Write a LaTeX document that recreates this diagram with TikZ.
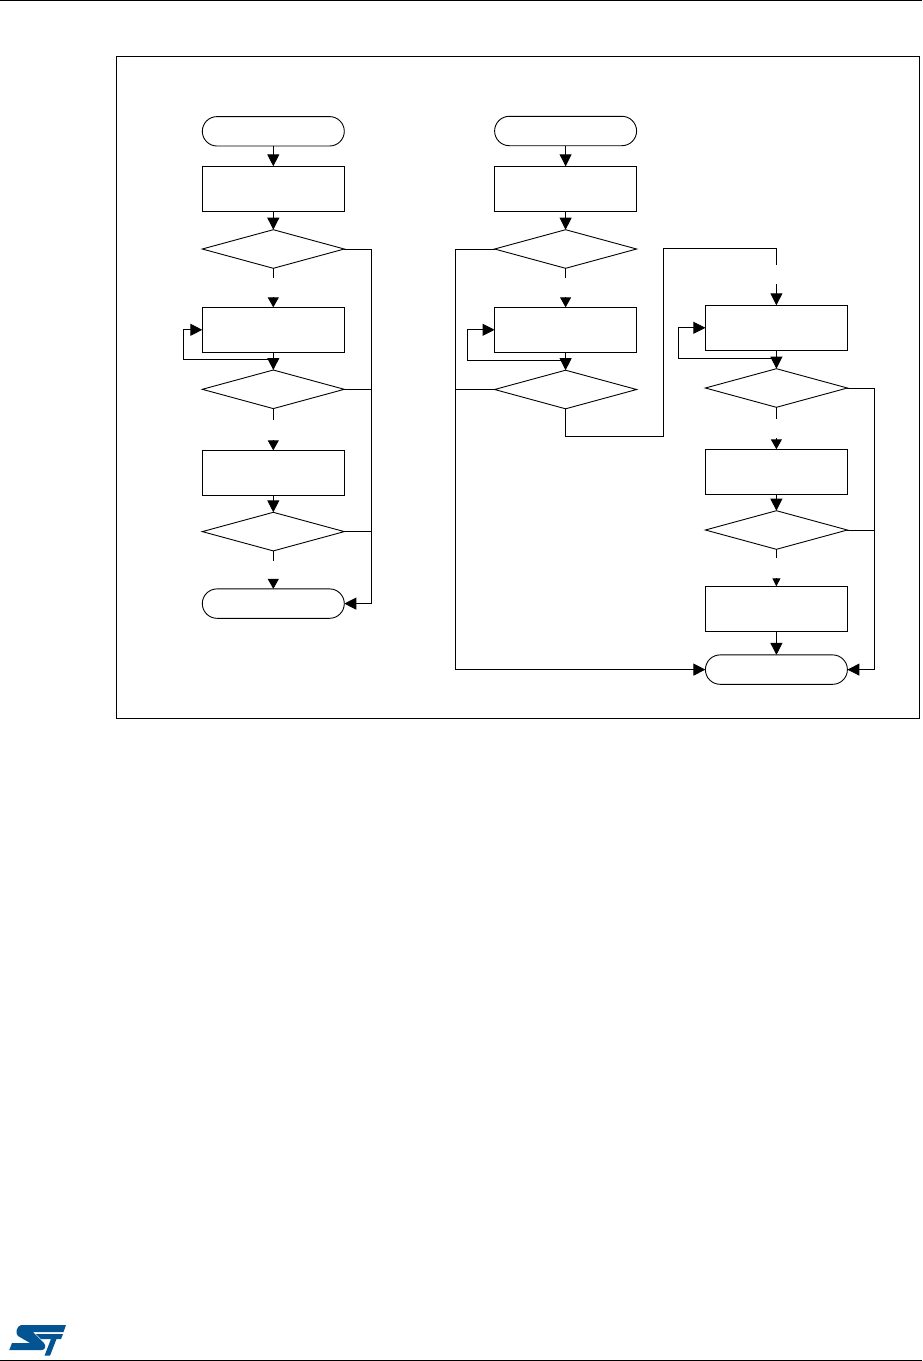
\documentclass[tikz,border=0pt]{standalone}
\usetikzlibrary{shapes.geometric,shapes.misc,arrows.meta}
\definecolor{stblue}{RGB}{3,84,146}
\tikzset{
  x=1pt,y=-1pt,
  every node/.style={draw=black,line width=0.9pt,outer sep=0pt,inner sep=0pt,fill=white},
  boxn/.style={rectangle,minimum width=142pt,minimum height=45pt},
  term/.style={rounded rectangle,minimum width=142pt,minimum height=29.4pt},
  dec/.style={diamond,minimum width=142pt,minimum height=38.6pt},
  frame/.style={draw=black,line width=1pt},
  conn/.style={draw=black,line width=0.9pt},
  arr/.style={conn,-{Triangle[length=12pt,width=12pt]}},
  arrs/.style={conn,-{Triangle[length=10pt,width=11pt]}},
}
\begin{document}
\begin{tikzpicture}
\useasboundingbox (0,0) rectangle (922,1361);
\fill[white] (0,0) rectangle (922,1361);
\coordinate (topa) at (0,0.6); \coordinate (topb) at (922,0.6);
\draw[frame] (topa) -- (topb);
\coordinate (bota) at (0,1360.4); \coordinate (botb) at (922,1360.4);
\draw[frame] (bota) -- (botb);
\draw[frame] (116.3,56.3) rectangle (919.2,718.3);

% left column
\node[term] (a0) at (273.3,131.3) {};
\node[boxn] (a1) at (273.3,188.8) {};
\node[dec]  (a2) at (273.3,249) {};
\node[boxn] (a3) at (273.3,329.8) {};
\node[dec]  (a4) at (273.3,389.3) {};
\node[boxn] (a5) at (273.3,472.8) {};
\node[dec]  (a6) at (273.3,531.6) {};
\node[term] (a7) at (273.3,603.6) {};
\coordinate (a2s) at (273.3,277.7);
\coordinate (a3s) at (273.3,297);
\coordinate (a4s) at (273.3,419.7);
\coordinate (a5s) at (273.3,440.3);
\coordinate (a6s) at (273.3,560.7);
\coordinate (a7s) at (273.3,580);
\coordinate (arail) at (371.3,249);
\coordinate (aloop) at (273.3,359.3);
\coordinate (aloopl) at (183.3,359.3);
\draw[arr] (a0.south) -- (a1.north);
\draw[arr] (a1.south) -- (a2.north);
\draw[conn] (a2.south) -- (a2s);
\draw[arrs] (a3s) -- (a3.north);
\draw[arr] (a3.south) -- (a4.north);
\draw[conn] (a4.south) -- (a4s);
\draw[arrs] (a5s) -- (a5.north);
\draw[arr] (a5.south) -- (a6.north);
\draw[conn] (a6.south) -- (a6s);
\draw[arrs] (a7s) -- (a7.north);
\draw[arr] (aloop) -- (aloopl) |- (a3.west);
\draw[arr] (a2.east) -- (arail) |- (a7.east);
\draw[conn] (a4.east) -- (a4.east -| arail);
\draw[conn] (a6.east) -- (a6.east -| arail);

% middle column
\node[term] (b0) at (565.6,131) {};
\node[boxn] (b1) at (565.6,188.8) {};
\node[dec]  (b2) at (565.6,249) {};
\node[boxn] (b3) at (565.6,329.8) {};
\node[dec]  (b4) at (565.6,389.5) {};
\coordinate (b2s) at (565.6,277.7);
\coordinate (b3s) at (565.6,297);
\coordinate (bloop) at (565.6,360.3);
\coordinate (bloopl) at (467.3,360.3);
\coordinate (brail) at (455.3,249);
\coordinate (bd1) at (565.6,436);
\coordinate (bd2) at (663.4,436);
\coordinate (bd3) at (663.4,248.3);
\coordinate (bd4) at (776.4,248.3);
\coordinate (bd5) at (776.4,264.7);
\draw[arr] (b0.south) -- (b1.north);
\draw[arr] (b1.south) -- (b2.north);
\draw[conn] (b2.south) -- (b2s);
\draw[arrs] (b3s) -- (b3.north);
\draw[arr] (b3.south) -- (b4.north);
\draw[arr] (bloop) -- (bloopl) |- (b3.west);
\draw[conn] (b4.south) -- (bd1) -- (bd2) -- (bd3) -- (bd4) -- (bd5);

% right column
\node[boxn] (c1) at (776.4,327.8) {};
\node[dec]  (c2) at (776.4,388) {};
\node[boxn] (c3) at (776.4,471.8) {};
\node[dec]  (c4) at (776.4,530) {};
\node[boxn] (c5) at (776.4,608.8) {};
\node[term] (c6) at (776.4,669.6) {};
\coordinate (c1s) at (776.4,284);
\coordinate (c2s) at (776.4,418.7);
\coordinate (c3s) at (776.4,438.3);
\coordinate (c4s) at (776.4,557.7);
\coordinate (c5s) at (776.4,578.3);
\coordinate (cloop) at (776.4,358.3);
\coordinate (cloopl) at (678.3,358.3);
\coordinate (crail) at (874.3,388);
\draw[arr] (c1s) -- (c1.north);
\draw[arr] (c1.south) -- (c2.north);
\draw[conn] (c2.south) -- (c2s);
\draw[arrs] (c3s) -- (c3.north);
\draw[arr] (c3.south) -- (c4.north);
\draw[conn] (c4.south) -- (c4s);
\draw[conn,-{Triangle[length=8pt,width=8pt]}] (c5s) -- (c5.north);
\draw[arr] (c5.south) -- (c6.north);
\draw[arr] (cloop) -- (cloopl) |- (c1.west);
\draw[arr] (c2.east) -- (crail) |- (c6.east);
\draw[conn] (c4.east) -- (c4.east -| crail);
\draw[arr] (b2.west) -- (brail) |- (c6.west);
\draw[conn] (b4.west) -- (b4.west -| brail);

% logo
\fill[stblue] (21,1325) -- (66,1325) -- (63.5,1332) -- (33,1332)
  -- (44,1343) .. controls (46,1345.5) and (45.5,1350) .. (42,1350)
  -- (9.3,1350) -- (12,1343) -- (30,1343)
  -- (18,1336) .. controls (15,1333) and (16.5,1326.5) .. (21,1325) -- cycle;
\fill[stblue] (36,1334) -- (63,1334) -- (61,1339) -- (56.5,1339) -- (50,1355.7)
  -- (44.5,1355.7) -- (51,1339) -- (41,1339) -- cycle;
\end{tikzpicture}
\end{document}
